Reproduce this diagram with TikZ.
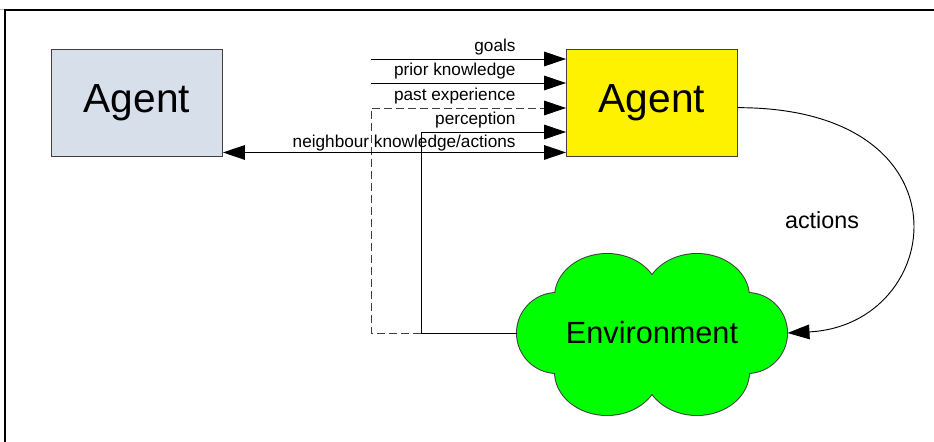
\documentclass[tikz,border=0pt]{standalone}
\usepackage{fontspec}
\setmainfont{Liberation Sans}
\usetikzlibrary{arrows.meta,positioning,calc}

\definecolor{agentblue}{RGB}{214,223,234}
\definecolor{envgreen}{RGB}{0,255,0}
\definecolor{boxline}{RGB}{64,64,64}

\begin{document}
\begin{tikzpicture}[x=0.75pt, y=-0.75pt, line width=0.7pt,
        agentbox/.style={rectangle, draw=boxline, minimum width=128.25pt, minimum height=80.5pt, font=\fontsize{30.5}{36}\selectfont},
        inlabel/.style={anchor=base east, inner sep=0pt, font=\fontsize{12.9}{15}\selectfont},
        envnode/.style={rectangle, minimum width=202.5pt, minimum height=121.5pt, font=\fontsize{23}{27}\selectfont},
        >={Triangle[length=16.5pt, width=11pt, color=black]}
        ]
    \useasboundingbox (0,0) rectangle (934,442);

    % Frame
    \draw[black!25] (0,9) -- (934,9);
    \draw[line width=0.9pt] (5,442) -- (5,10) -- (934,10);

    % Nodes
    \node[agentbox, fill=agentblue] (neighbour) at (137,103) {Agent};
    \node[agentbox, fill=yellow] (agent) at (652,103) {Agent};

    % Cloud
    \begin{scope}[shift={(652,333)}]
        \foreach \cx/\cy/\rx/\ry in {-95/0/40/40, 95/0/40/40, -45/-36/52/43, 45/-36/52/43, -45/39/52/43, 45/39/52/43}
            \draw[line width=1.5pt, boxline] (\cx,\cy) ellipse [x radius=\rx, y radius=\ry];
        \foreach \cx/\cy/\rx/\ry in {-95/0/40/40, 95/0/40/40, -45/-36/52/43, 45/-36/52/43, -45/39/52/43, 45/39/52/43, 0/0/95/50}
            \fill[envgreen] (\cx,\cy) ellipse [x radius=\rx, y radius=\ry];
    \end{scope}
    \node[envnode] (env) at (652,333) {Environment};

    % Inputs
    \coordinate (goalsin) at (371,59);
    \coordinate (priorin) at (371,83);
    \coordinate (pastin) at (371,108);
    \coordinate (percin) at (421,132);
    \coordinate (pastcorner) at (371,333);
    \coordinate (perccorner) at (421,333);

    \node[inlabel] (goalslbl) at (516,52) {goals};
    \node[inlabel] (priorlbl) at (516,76) {prior knowledge};
    \node[inlabel] (pastlbl) at (516,101) {past experience};
    \node[inlabel] (perclbl) at (516,125) {perception};
    \node[inlabel] (nbrlbl) at (516,147) {neighbour knowledge/actions};
    \node[font=\fontsize{17.5}{21}\selectfont] (actlbl) at (822,220) {actions};

    % Lines
    \draw[->] (goalsin) -- (goalsin -| agent.west);
    \draw[->] (priorin) -- (priorin -| agent.west);
    \draw[->, black!75, dash pattern=on 6pt off 3pt] (perccorner) -- (pastcorner) -- (pastin) -- (pastin -| agent.west);
    \draw[->] (env.west) -- (perccorner) -- (percin) -- (percin -| agent.west);
    \draw[<->] ([yshift=3.5pt]neighbour.south east) -- ([yshift=3.5pt]agent.south west);
    \draw[->] ([yshift=-3.5pt]agent.east) .. controls +(237,0) and +(158,-8) .. (env.east);

\end{tikzpicture}
\end{document}
